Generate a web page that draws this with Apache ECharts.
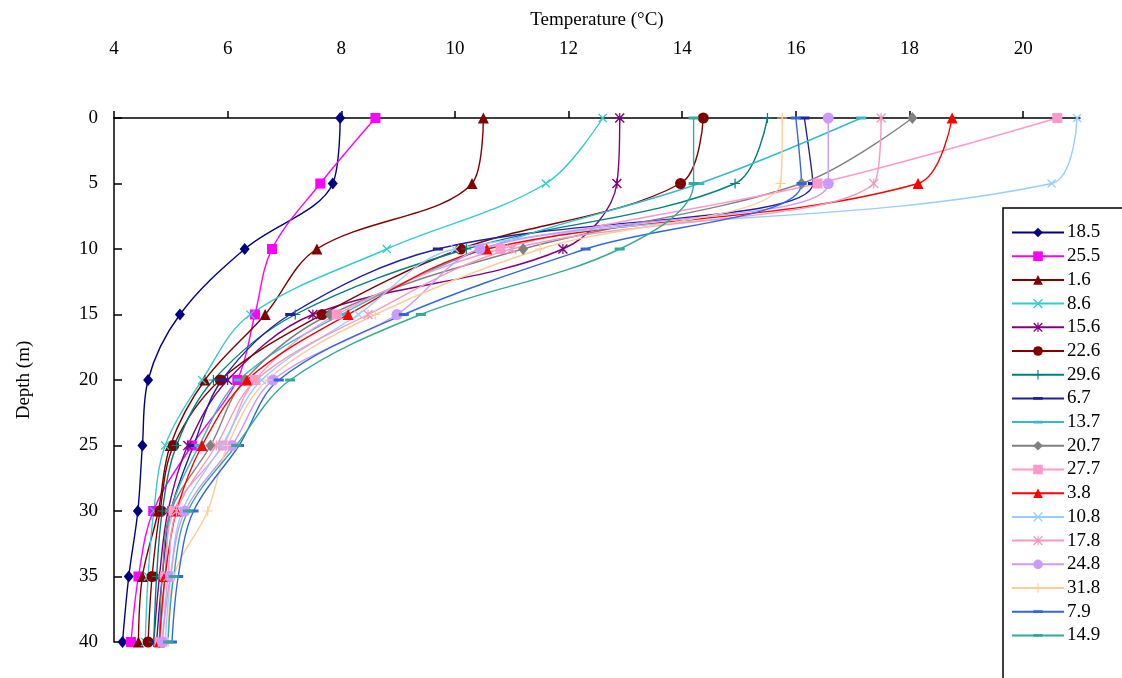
<!DOCTYPE html>
<html>
<head>
<meta charset="utf-8">
<script src="https://cdn.jsdelivr.net/npm/echarts@6/dist/echarts.min.js"></script>
<style>html,body{margin:0;padding:0;background:#fff}#c{width:1122px;height:678px}</style>
</head>
<body>
<div id="c"></div>
<script>
// Depth (m) of each sample
const depths = [0, 5, 10, 15, 20, 25, 30, 35, 40];
// X tick labels (temperature) and Y tick labels (depth)
const tempTicks = [4, 6, 8, 10, 12, 14, 16, 18, 20];
const depthTicks = [0, 5, 10, 15, 20, 25, 30, 35, 40];
// Series names (dates)
const seriesNames = ['18.5','25.5','1.6','8.6','15.6','22.6','29.6','6.7','13.7','20.7','27.7','3.8','10.8','17.8','24.8','31.8','7.9','14.9'];
// Temperature (°C) at each depth, one array per series
const t18_5 = [7.98, 7.85, 6.30, 5.16, 4.60, 4.50, 4.42, 4.26, 4.15];
const t25_5 = [8.60, 7.63, 6.78, 6.48, 6.17, 5.37, 4.69, 4.43, 4.30];
const t1_6  = [10.50, 10.30, 7.57, 6.66, 5.60, 4.99, 4.78, 4.50, 4.43];
const t8_6  = [12.60, 11.60, 8.80, 6.40, 5.55, 4.90, 4.70, 4.60, 4.55];
const t15_6 = [12.90, 12.85, 11.90, 7.50, 6.00, 5.30, 4.95, 4.80, 4.70];
const t22_6 = [14.37, 13.97, 10.10, 7.66, 5.87, 5.05, 4.81, 4.67, 4.60];
const t29_6 = [15.50, 14.93, 10.20, 7.19, 5.75, 5.10, 4.85, 4.75, 4.70];
const t6_7  = [16.15, 16.30, 9.70, 7.10, 5.90, 5.40, 5.00, 4.85, 4.75];
const t13_7 = [17.15, 14.30, 10.50, 8.00, 6.20, 5.50, 5.00, 4.90, 4.80];
const t20_7 = [18.05, 16.10, 11.20, 7.80, 6.30, 5.70, 5.00, 4.85, 4.80];
const t27_7 = [20.60, 16.38, 10.80, 7.92, 6.48, 5.92, 5.05, 4.90, 4.80];
const t3_8  = [18.75, 18.15, 10.56, 8.12, 6.34, 5.55, 5.10, 4.90, 4.80];
const t10_8 = [20.95, 20.50, 10.00, 8.30, 6.60, 5.90, 5.20, 5.00, 4.90];
const t17_8 = [17.50, 17.37, 11.00, 8.47, 6.50, 5.80, 5.10, 4.95, 4.85];
const t24_8 = [16.57, 16.57, 10.44, 8.98, 6.80, 6.08, 5.25, 4.99, 4.85];
const t31_8 = [15.76, 15.73, 11.50, 8.60, 6.70, 6.00, 5.65, 5.05, 4.95];
const t7_9  = [16.00, 16.10, 12.30, 9.10, 6.90, 6.20, 5.40, 5.13, 5.02];
const t14_9 = [14.20, 14.20, 12.90, 9.40, 7.10, 6.15, 5.30, 5.05, 4.95];

const temps = [t18_5,t25_5,t1_6,t8_6,t15_6,t22_6,t29_6,t6_7,t13_7,t20_7,t27_7,t3_8,t10_8,t17_8,t24_8,t31_8,t7_9,t14_9];

const X = 'path://M1,0 L5,4 L9,0 L10,1 L6,5 L10,9 L9,10 L5,6 L1,10 L0,9 L4,5 L0,1 Z';
const STAR = 'path://M1,0 L5,4 L9,0 L10,1 L6,5 L10,9 L9,10 L5,6 L1,10 L0,9 L4,5 L0,1 Z M4.4,0 L5.6,0 L5.6,10 L4.4,10 Z';
const PLUS = 'path://M4.4,0 L5.6,0 L5.6,4.4 L10,4.4 L10,5.6 L5.6,5.6 L5.6,10 L4.4,10 L4.4,5.6 L0,5.6 L0,4.4 L4.4,4.4 Z';
const DASH = 'path://M0,0 L0,0.01 L0.01,0.01 Z M10,10 L10,9.99 L9.99,9.99 Z M0,3.6 L10,3.6 L10,6.4 L0,6.4 Z';

const styles = [
  ['#000080','diamond',[10,12]],
  ['#FF00FF','rect',10],
  ['#800000','triangle',11],
  ['#33CCCC',X,9],
  ['#800080',STAR,10],
  ['#800000','circle',11],
  ['#008080',PLUS,10],
  ['#2020A0',DASH,10],
  ['#33BBCC',DASH,10],
  ['#808080','diamond',[10,12]],
  ['#FF99CC','rect',10],
  ['#FF0000','triangle',11],
  ['#99CCFF',X,9],
  ['#F49AC0',STAR,10],
  ['#CC99FF','circle',11],
  ['#FFCC99',PLUS,10],
  ['#3366DD',DASH,10],
  ['#33AA99',DASH,10]
];

const FONT = 'Liberation Serif';
const series = seriesNames.map((n, i) => ({
  name: n,
  type: 'line',
  smooth: 0.35,
  data: temps[i].map((t, k) => [t, depths[k]]),
  symbol: styles[i][1],
  symbolSize: styles[i][2],
  showSymbol: true,
  color: styles[i][0],
  lineStyle: { width: 1.4, color: styles[i][0] },
  itemStyle: { color: styles[i][0] },
  emphasis: { disabled: true },
  animation: false
}));

const chart = echarts.init(document.getElementById('c'));
chart.setOption({
  animation: false,
  backgroundColor: '#fff',
  grid: { left: 114, top: 118, right: 42, bottom: 36, containLabel: false, outerBoundsMode: 'none' },
  graphic: [{
    type: 'rect', z: 1, silent: true,
    shape: { x: 1003, y: 208, width: 140, height: 490 },
    style: { fill: '#fff', stroke: '#000', lineWidth: 1.5 }
  }],
  xAxis: {
    type: 'value', position: 'top', min: 4, max: 21, interval: 2,
    name: 'Temperature (°C)', nameLocation: 'middle', nameGap: 88,
    nameTextStyle: { fontFamily: FONT, fontSize: 19, color: '#000' },
    axisLine: { show: true, onZero: false, lineStyle: { color: '#000', width: 1.5 } },
    axisTick: { show: true, inside: false, length: 7, lineStyle: { color: '#000', width: 1.5 }, customValues: tempTicks },
    axisLabel: { margin: 59, fontFamily: FONT, fontSize: 19, color: '#000', customValues: tempTicks },
    splitLine: { show: false }
  },
  yAxis: {
    type: 'value', inverse: true, min: 0, max: 40, interval: 5,
    name: 'Depth (m)', nameLocation: 'middle', nameGap: 80, nameRotate: 90,
    nameTextStyle: { fontFamily: FONT, fontSize: 19, color: '#000' },
    axisLine: { show: true, onZero: false, lineStyle: { color: '#000', width: 1.5 } },
    axisTick: { show: true, inside: true, length: 8, lineStyle: { color: '#000', width: 1.5 } },
    axisLabel: { margin: 16, fontFamily: FONT, fontSize: 19, color: '#000', customValues: depthTicks },
    splitLine: { show: false }
  },
  legend: {
    orient: 'vertical', left: 1003, top: 208,
    borderWidth: 0,
    padding: [15, 0, 0, 8],
    itemWidth: 52, itemHeight: 12, itemGap: 4.7,
    textStyle: { fontFamily: FONT, fontSize: 19, color: '#000', padding: [0,0,0,-2] },
    data: seriesNames
  },
  series: series
});
</script>
</body>
</html>
